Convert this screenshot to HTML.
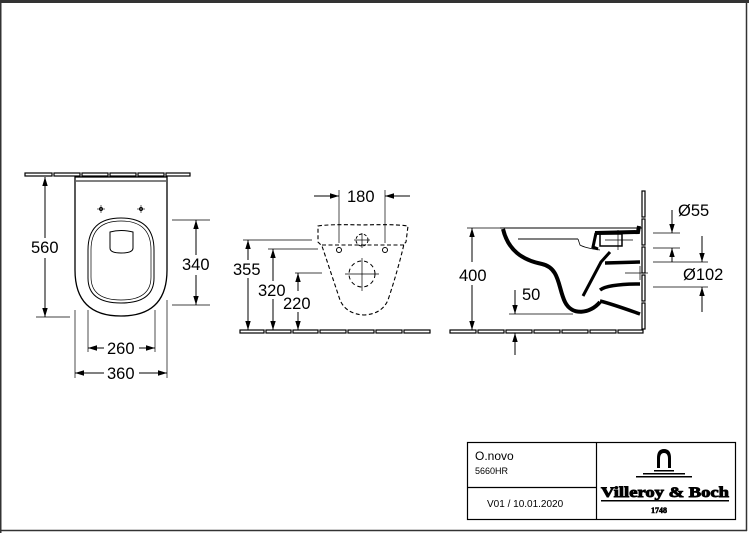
<!DOCTYPE html>
<html><head><meta charset="utf-8"><style>
html,body{margin:0;padding:0;background:#fff;width:749px;height:533px;overflow:hidden}
svg{display:block}
text{font-family:"Liberation Sans",Arial,sans-serif;fill:#000}
</style></head><body>
<svg width="749" height="533" viewBox="0 0 749 533" xmlns="http://www.w3.org/2000/svg">
<defs>
<marker id="a" viewBox="0 0 10 10" refX="10" refY="5" markerWidth="9" markerHeight="9" orient="auto-start-reverse" markerUnits="userSpaceOnUse"><path d="M0,2 L10,5 L0,8 z" fill="#000"/></marker>
</defs>
<rect x="0" y="0" width="749" height="3" fill="#333"/>
<rect x="0" y="0" width="1.5" height="533" fill="#333"/>
<line x1="746.5" y1="3" x2="746.5" y2="531" stroke="#333" stroke-width="1.5"/>
<line x1="0" y1="530.5" x2="747" y2="530.5" stroke="#333" stroke-width="1.5"/>

<g stroke="#000" fill="none" stroke-width="1">
<g stroke-width="1.2">
<rect x="25" y="173" width="27" height="3"/><rect x="54" y="173" width="26" height="3"/><rect x="82" y="173" width="26" height="3"/><rect x="110" y="173" width="26" height="3"/><rect x="138" y="173" width="26" height="3"/><rect x="166" y="173" width="24" height="3"/>
</g>
<path d="M75,177 L167,177 L167,270 Q167,316 121,316 Q75,316 75,270 Z" stroke-width="1.3"/>
<line x1="76" y1="181" x2="166" y2="181"/>
<path d="M88,250 Q88,218 121,218 Q154,218 154,250 L154,278 Q154,303 121,303 Q88,303 88,278 Z"/>
<path d="M91,250 Q91,221 121,221 Q151,221 151,250 L151,277 Q151,300 121,300 Q91,300 91,277 Z" stroke-width="0.7"/>
<path d="M110,232 Q121,229 133,232 L133,248 Q133,253 121,253 Q110,253 110,248 Z"/>
<circle cx="101" cy="209" r="1.5"/><line x1="97" y1="209" x2="105" y2="209" stroke-width=".6"/><line x1="101" y1="205" x2="101" y2="213" stroke-width=".6"/>
<circle cx="141" cy="209" r="1.5"/><line x1="137" y1="209" x2="145" y2="209" stroke-width=".6"/><line x1="141" y1="205" x2="141" y2="213" stroke-width=".6"/>
<line x1="45" y1="177" x2="45" y2="238" marker-start="url(#a)"/><line x1="45" y1="258" x2="45" y2="317" marker-end="url(#a)"/>
<line x1="36" y1="317" x2="70" y2="317" stroke-width=".7"/>
<line x1="172" y1="220" x2="210" y2="220" stroke-width=".7"/><line x1="172" y1="305" x2="210" y2="305" stroke-width=".7"/>
<line x1="196" y1="220" x2="196" y2="255" marker-start="url(#a)"/><line x1="196" y1="275" x2="196" y2="305" marker-end="url(#a)"/>
<line x1="88" y1="310" x2="88" y2="352" stroke-width=".7"/><line x1="155" y1="310" x2="155" y2="352" stroke-width=".7"/>
<line x1="75" y1="310" x2="75" y2="378" stroke-width=".7"/><line x1="167" y1="300" x2="167" y2="378" stroke-width=".7"/>
<line x1="88" y1="348" x2="104" y2="348" marker-start="url(#a)"/><line x1="139" y1="348" x2="155" y2="348" marker-end="url(#a)"/>
<line x1="75" y1="373" x2="104" y2="373" marker-start="url(#a)"/><line x1="139" y1="373" x2="167" y2="373" marker-end="url(#a)"/>

<g stroke-width="1.2">
<rect x="240" y="330" width="24" height="3"/><rect x="266" y="330" width="25" height="3"/><rect x="293" y="330" width="25" height="3"/><rect x="320" y="330" width="26" height="3"/><rect x="348" y="330" width="26" height="3"/><rect x="376" y="330" width="26" height="3"/><rect x="404" y="330" width="26" height="3"/>
</g>
<path d="M318,226 Q330,224 362,225 Q396,224 408,226 L406,242 L404,244 Q398,270 388,300 Q382,314 364,315 Q346,314 340,300 Q330,270 322,246 L318,242 Z" stroke-dasharray="4,2.5" stroke-width="1.1"/>
<line x1="322" y1="245" x2="404" y2="245" stroke-dasharray="4,2.5"/>
<circle cx="339" cy="250" r="2.5"/><circle cx="385" cy="250" r="2.5"/>
<circle cx="362" cy="240" r="6" stroke-dasharray="3,2"/><line x1="354" y1="240" x2="370" y2="240" stroke-width=".7"/><line x1="362" y1="233" x2="362" y2="248" stroke-width=".7"/>
<circle cx="362" cy="274" r="13" stroke-dasharray="4,3"/><line x1="345" y1="274" x2="379" y2="274" stroke-width=".7"/><line x1="362" y1="258" x2="362" y2="291" stroke-width=".7"/>
<line x1="339" y1="190" x2="339" y2="243" stroke-width=".7"/><line x1="385" y1="190" x2="385" y2="243" stroke-width=".7"/>
<line x1="314" y1="196" x2="339" y2="196" marker-end="url(#a)"/><line x1="410" y1="196" x2="385" y2="196" marker-end="url(#a)"/>
<line x1="243" y1="240" x2="312" y2="240" stroke-width=".7"/>
<line x1="268" y1="249" x2="318" y2="249" stroke-width=".7"/>
<line x1="295" y1="273" x2="322" y2="273" stroke-width=".7"/>
<line x1="248" y1="240" x2="248" y2="260" marker-start="url(#a)"/><line x1="248" y1="278" x2="248" y2="330" marker-end="url(#a)"/>
<line x1="273" y1="249" x2="273" y2="281" marker-start="url(#a)"/><line x1="273" y1="299" x2="273" y2="330" marker-end="url(#a)"/>
<line x1="298" y1="273" x2="298" y2="291"  marker-start="url(#a)"/><line x1="298" y1="312" x2="298" y2="330" marker-end="url(#a)"/>

<g stroke-width="1.2">
<rect x="450" y="330" width="26" height="3"/><rect x="478" y="330" width="26" height="3"/><rect x="506" y="330" width="26" height="3"/><rect x="534" y="330" width="26" height="3"/><rect x="562" y="330" width="26" height="3"/><rect x="590" y="330" width="26" height="3"/><rect x="618" y="330" width="25" height="3"/>
<rect x="642" y="191" width="3" height="26"/><rect x="642" y="219" width="3" height="26"/><rect x="642" y="247" width="3" height="26"/><rect x="642" y="275" width="3" height="26"/><rect x="642" y="303" width="3" height="26"/>
</g>
<line x1="500" y1="228" x2="642" y2="228" stroke-width="1"/>
<line x1="518" y1="239" x2="578" y2="239" stroke-width="1"/>
<path d="M578,239 L580,245 Q585,248 600,250" stroke-width=".8"/>
<path d="M503,229 C508,250 522,260 542,264 C560,268 558,288 565,302 C572,316 590,314 600,302" stroke-width="4"/>
<path d="M600,301 Q612,304 640,314" stroke-width="3.5"/>
<path d="M583,296 L601,262 L610,252" stroke-width="3"/>
<path d="M605,263 L640,262" stroke-width="3.5"/>
<path d="M600,290 Q608,284 640,284" stroke-width="3.5"/>
<path d="M595,233 L638,232 L639,226" stroke-width="4"/>
<path d="M596,233 L593,247 L598,249" stroke-width="3"/>
<rect x="600" y="234" width="22" height="12" stroke-width="1.5"/>
<line x1="605" y1="240" x2="633" y2="240" stroke-width=".7"/><line x1="618" y1="230" x2="618" y2="250" stroke-width=".7"/>
<line x1="625" y1="273" x2="648" y2="273" stroke-width=".7"/><line x1="640" y1="266" x2="640" y2="280" stroke-width=".7"/>
<line x1="467" y1="228" x2="500" y2="228" stroke-width=".7"/>
<line x1="472" y1="228" x2="472" y2="262" marker-start="url(#a)"/><line x1="472" y1="285" x2="472" y2="330" marker-end="url(#a)"/>
<line x1="509" y1="314" x2="573" y2="314" stroke-width=".7"/>
<line x1="515" y1="290" x2="515" y2="314" marker-end="url(#a)"/>
<line x1="515" y1="355" x2="515" y2="333" marker-end="url(#a)"/>
<line x1="653" y1="233" x2="680" y2="233" stroke-width=".7"/>
<line x1="653" y1="248" x2="680" y2="248" stroke-width=".7"/>
<line x1="672" y1="210" x2="672" y2="233" marker-end="url(#a)"/>
<line x1="672" y1="262" x2="672" y2="248" marker-end="url(#a)"/>
<line x1="653" y1="262" x2="708" y2="262" stroke-width=".7"/>
<line x1="653" y1="287" x2="708" y2="287" stroke-width=".7"/>
<line x1="702" y1="236" x2="702" y2="262" marker-end="url(#a)"/>
<line x1="702" y1="312" x2="702" y2="287" marker-end="url(#a)"/>

<rect x="467.5" y="442.5" width="268" height="77" stroke-width="1.2"/>
<line x1="596.5" y1="442" x2="596.5" y2="520" stroke-width="1.2"/>
<line x1="467" y1="487.5" x2="596" y2="487.5" stroke-width="1.2"/>
</g>

<g font-size="16.5">
<text x="31" y="253">560</text>
<text x="182" y="270">340</text>
<text x="107" y="354">260</text>
<text x="107" y="379">360</text>
<text x="347" y="202">180</text>
<text x="233" y="275">355</text>
<text x="258" y="296">320</text>
<text x="283" y="309">220</text>
<text x="459" y="281">400</text>
<text x="522" y="300">50</text>
<text x="678" y="216">Ø55</text>
<text x="683" y="280">Ø102</text>
</g>
<text x="475" y="460" font-size="12">O.novo</text>
<text x="475" y="474" font-size="9">5660HR</text>
<text x="487" y="507" font-size="10">V01 / 10.01.2020</text>
<g fill="#000">
<path d="M657,468 L657,458 Q657,449 664,449 Q671,449 671,458 L671,468 L668,468 L668,459 Q668,453 664,453 Q660,453 660,459 L660,468 Z"/>
<rect x="654" y="470" width="20" height="1.5"/>
<rect x="643" y="473" width="42" height="1.5"/>
<rect x="636" y="476" width="56" height="1.5"/>
</g>
<text x="601" y="497" font-size="15" font-weight="bold" stroke="#000" stroke-width="0.9" textLength="128" lengthAdjust="spacingAndGlyphs" style="font-family:'Liberation Serif',serif">Villeroy &amp; Boch</text>
<rect x="601" y="500" width="128" height="1.5" fill="#000"/>
<text x="651" y="513" font-size="8" font-weight="bold" stroke="#000" stroke-width="0.6" style="font-family:'Liberation Serif',serif">1748</text>
</svg>
</body></html>
